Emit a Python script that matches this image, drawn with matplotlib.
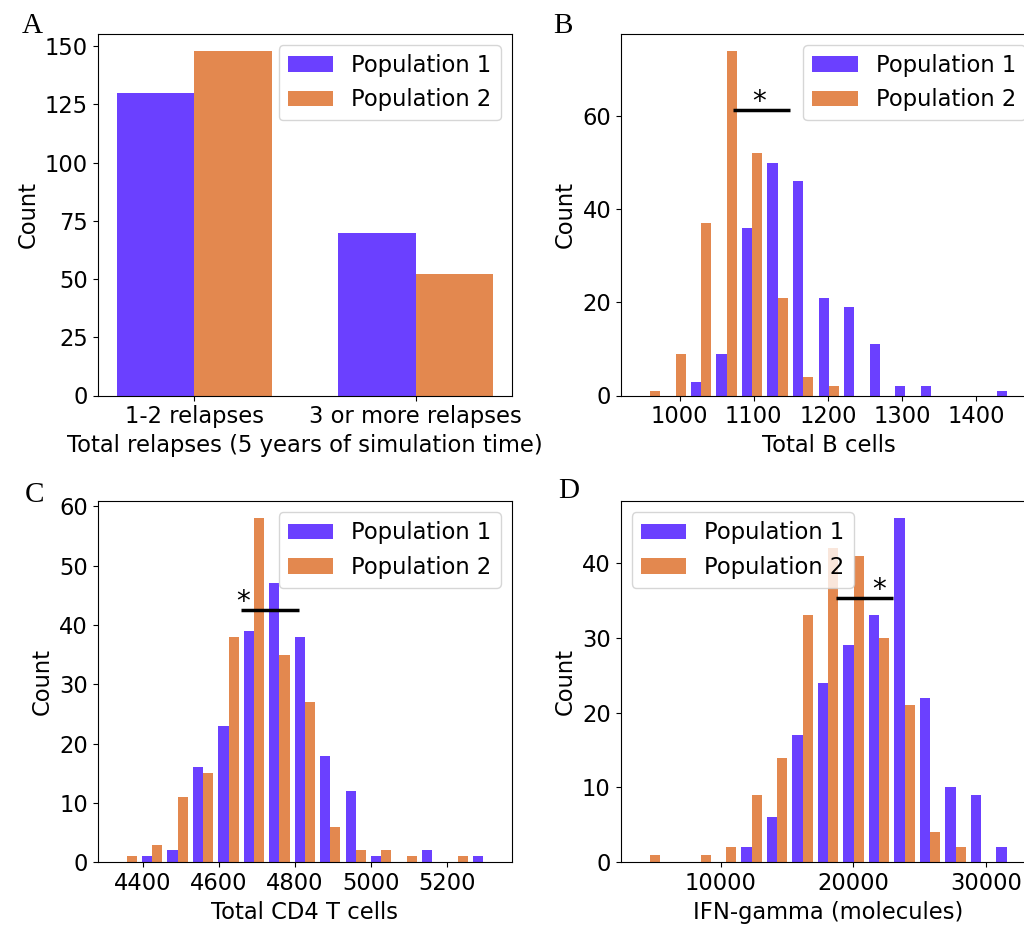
import numpy as np
import matplotlib
matplotlib.use("Agg")
import matplotlib.pyplot as plt

# colours of the two populations
PURPLE = "#6b40ff"
ORANGE = "#e3884f"
LABELS = ["Population 1", "Population 2"]

# panel A: relapse categories
relapse_cats = ["1-2 relapses", "3 or more relapses"]
relapse_pop1 = [130, 70]
relapse_pop2 = [148, 52]

# panel B: total B cells, 15 bins over this range
bcell_range = (943.1, 1459.0)
bcell_pop1 = [0, 0, 3, 9, 36, 50, 46, 21, 19, 11, 2, 2, 0, 0, 1]
bcell_pop2 = [1, 9, 37, 74, 52, 21, 4, 2, 0, 0, 0, 0, 0, 0, 0]

# panel C: total CD4 T cells
cd4_range = (4324.6, 5328.0)
cd4_pop1 = [0, 1, 2, 16, 23, 39, 47, 38, 18, 12, 1, 0, 2, 0, 1]
cd4_pop2 = [1, 3, 11, 15, 38, 58, 35, 27, 6, 2, 2, 1, 0, 1, 0]

# panel D: IFN-gamma
ifn_range = (3675.0, 32505.0)
ifn_pop1 = [0, 0, 0, 0, 2, 6, 17, 24, 29, 33, 46, 22, 10, 9, 2]
ifn_pop2 = [1, 0, 1, 2, 9, 14, 33, 42, 41, 30, 21, 4, 2, 0, 0]

# significance bars: (x start, x end, y, star x)
sig_b = (1071.5, 1149.4, 61.4, 1107.5)
sig_c = (4658.7, 4810.0, 42.6, 4664.0)
sig_d = (18657.0, 22974.0, 35.3, 21944.0)

FS = 16.3
W, H = 1024, 927


def axes_at(fig, x0, y0, x1, y1):
    """Place axes by pixel box (top-left origin)."""
    return fig.add_axes([x0 / W, 1 - y1 / H, (x1 - x0) / W, (y1 - y0) / H])


def draw_hist(ax, rng, c1, c2, xlabel, sig, legend_loc):
    edges = np.linspace(rng[0], rng[1], len(c1) + 1)
    centers = 0.5 * (edges[:-1] + edges[1:])
    ax.hist([centers, centers], bins=len(c1), range=rng, weights=[c1, c2],
            color=[PURPLE, ORANGE], label=LABELS)
    x0, x1, y, sx = sig
    ax.plot([x0, x1], [y, y], color="black", lw=2.5, solid_capstyle="butt")
    ax.text(sx, y, "*", fontsize=20, ha="center", va="baseline")
    ax.set_xlabel(xlabel, fontsize=FS)
    ax.set_ylabel("Count", fontsize=FS)
    ax.tick_params(labelsize=FS)
    ax.legend(loc=legend_loc, fontsize=FS)


fig = plt.figure(figsize=(W / 100, H / 100), dpi=100)

axA = axes_at(fig, 97.7, 33.7, 512.0, 395.5)
axB = axes_at(fig, 621.0, 33.7, 1036.5, 395.5)
axC = axes_at(fig, 97.7, 501.0, 512.0, 862.3)
axD = axes_at(fig, 620.5, 501.0, 1035.6, 862.3)

xpos = np.arange(len(relapse_cats))
bw = 0.35
axA.bar(xpos - bw / 2, relapse_pop1, bw, color=PURPLE, label=LABELS[0])
axA.bar(xpos + bw / 2, relapse_pop2, bw, color=ORANGE, label=LABELS[1])
axA.set_xticks(xpos)
axA.set_xticklabels(relapse_cats)
axA.set_xlabel("Total relapses (5 years of simulation time)", fontsize=FS)
axA.set_ylabel("Count", fontsize=FS)
axA.tick_params(labelsize=FS)
axA.legend(loc="upper right", fontsize=FS)

draw_hist(axB, bcell_range, bcell_pop1, bcell_pop2, "Total B cells", sig_b, "upper right")
draw_hist(axC, cd4_range, cd4_pop1, cd4_pop2, "Total CD4 T cells", sig_c, "upper right")
draw_hist(axD, ifn_range, ifn_pop1, ifn_pop2, "IFN-gamma (molecules)", sig_d, "upper left")

for letter, px, py in [("A", 22, 33), ("B", 553, 33), ("C", 25, 502), ("D", 558, 498)]:
    fig.text(px / W, 1 - py / H, letter, fontsize=21, family="Liberation Serif",
             ha="left", va="baseline")

fig.savefig("out.png", dpi=100)
